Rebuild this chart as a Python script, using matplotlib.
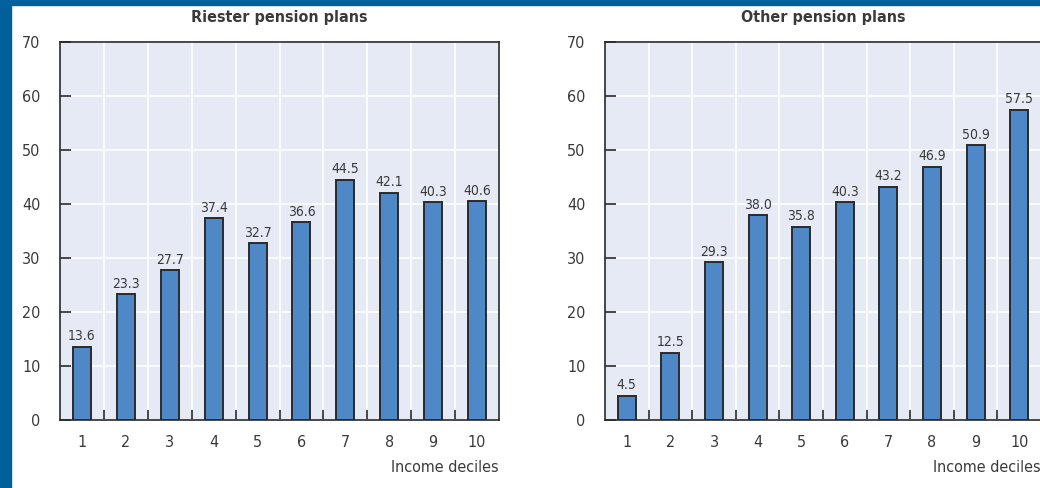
import numpy as np
import matplotlib
matplotlib.use("Agg")
from matplotlib import pyplot as plt
from matplotlib.patches import Rectangle

deciles = [str(i) for i in range(1, 11)]
riester = [13.6, 23.3, 27.7, 37.4, 32.7, 36.6, 44.5, 42.1, 40.3, 40.6]
other = [4.5, 12.5, 29.3, 38.0, 35.8, 40.3, 43.2, 46.9, 50.9, 57.5]
titles = ["Riester pension plans", "Other pension plans"]
xlabel = "Income deciles"

TXT = "#3a3a3a"
plt.rcParams["font.family"] = ["DejaVu Sans"]
plt.rcParams["font.stretch"] = "condensed"

fig = plt.figure(figsize=(10.4, 4.88), dpi=100)
fig.patch.set_facecolor("white")

# blue frame strips (left and top)
fig.patches.append(Rectangle((0, 0), 11 / 1040, 1, transform=fig.transFigure,
                             color="#00609c", zorder=0))
fig.patches.append(Rectangle((0, 1 - 5 / 488), 1, 5 / 488, transform=fig.transFigure,
                             color="#00609c", zorder=0))

boxes = [[60 / 1040, 68 / 488, 439 / 1040, 378 / 488],
         [605 / 1040, 68 / 488, 436 / 1040, 378 / 488]]

for box, vals, title in zip(boxes, [riester, other], titles):
    ax = fig.add_axes(box)
    ax.set_facecolor("#e6eaf5")
    x = np.arange(1, len(vals) + 1)
    ax.bar(x, vals, width=0.41, color="#4f88c6", edgecolor="#2a2a2a",
           linewidth=1.4, zorder=3)
    for xi, v in zip(x, vals):
        ax.text(xi, v + 0.6, f"{v:.1f}", ha="center", va="bottom",
                fontsize=10, color=TXT, zorder=4)
    ax.set_xlim(0.5, len(vals) + 0.5)
    ax.set_ylim(0, 70)
    ax.set_yticks(range(0, 71, 10))
    ax.set_xticks(x)
    ax.set_xticklabels(deciles)
    ax.set_xticks(np.arange(1.5, len(vals)), minor=True)
    ax.tick_params(axis="x", which="major", length=0, pad=11,
                   labelsize=11.5, labelcolor=TXT)
    ax.tick_params(axis="x", which="minor", direction="in", length=7,
                   width=1.2, color="#2a2a2a")
    ax.tick_params(axis="y", direction="in", length=8, width=1.2,
                   color="#2a2a2a", pad=14, labelsize=11.5, labelcolor=TXT)
    ax.grid(True, axis="y", color="white", linewidth=1.2, zorder=1)
    ax.grid(True, axis="x", which="minor", color="white", linewidth=1.2, zorder=1)
    ax.set_axisbelow(True)
    for s in ax.spines.values():
        s.set_color("#2a2a2a")
        s.set_linewidth(1.2)
    ax.text(0.5, 1.0635, title, transform=ax.transAxes, ha="center",
            va="center", fontsize=11.5, fontweight="bold", color=TXT)
    ax.text(1.0, -0.105, xlabel, transform=ax.transAxes, ha="right",
            va="top", fontsize=11.5, color=TXT)

fig.savefig("out.png", dpi=100, facecolor="white")
